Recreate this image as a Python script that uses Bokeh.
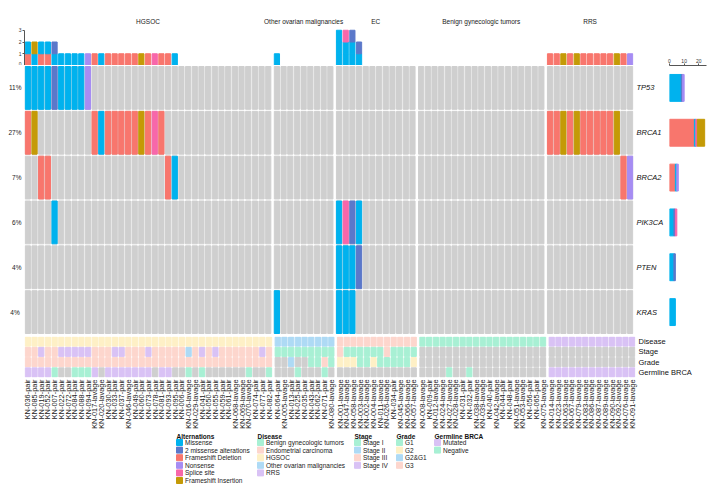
import math
from bokeh.plotting import figure
from bokeh.models import (ColumnDataSource, FactorRange, Range1d, LinearAxis,
                          CategoricalAxis, FixedTicker)
from bokeh.layouts import column, row
from bokeh.embed import file_html
from bokeh.resources import INLINE
from bokeh.core.properties import value

FONT = "Liberation Sans"

# ---------------- data ----------------
groups = ["HGSOC", "Other ovarian malignancies", "EC", "Benign gynecologic tumors", "RRS"]
disease_names = ["HGSOC", "Other ovarian malignancies", "Endometrial carcinoma",
                 "Benign gynecologic tumors", "RRS"]

samples_hgsoc = ["KN-036-pair", "KN-085-pair", "KN-019-pair", "KN-052-pair", "KN-007-pair",
                 "KN-022-pair", "KN-072-pair", "KN-084-pair", "KN-088-pair", "KN-094-pair",
                 "KN-017-lavage", "KN-020-lavage", "KN-030-pair", "KN-033-pair", "KN-037-pair",
                 "KN-046-lavage", "KN-049-pair", "KN-060-pair", "KN-073-pair", "KN-078-pair",
                 "KN-081-pair", "KN-093-pair", "KN-095-pair", "KN-006-pair", "KN-016-lavage",
                 "KN-029-lavage", "KN-041-pair", "KN-050-pair", "KN-055-pair", "KN-059-pair",
                 "KN-061-pair", "KN-068-lavage", "KN-069-lavage", "KN-070-lavage", "KN-074-pair",
                 "KN-077-pair", "KN-082-pair"]
samples_other = ["KN-064-pair", "KN-005-lavage", "KN-013-pair", "KN-025-pair", "KN-035-pair",
                 "KN-043-pair", "KN-062-pair", "KN-071-pair", "KN-080-lavage"]
samples_ec = ["KN-001-lavage", "KN-047-lavage", "KN-058-lavage", "KN-003-lavage", "KN-002-lavage",
              "KN-004-lavage", "KN-011-lavage", "KN-026-lavage", "KN-034-pair", "KN-045-lavage",
              "KN-066-lavage", "KN-057-lavage"]
samples_benign = ["KN-008-lavage", "KN-009-pair", "KN-012-lavage", "KN-024-lavage", "KN-027-lavage",
                  "KN-028-lavage", "KN-031-pair", "KN-032-pair", "KN-038-lavage", "KN-039-lavage",
                  "KN-040-pair", "KN-042-lavage", "KN-044-pair", "KN-048-pair", "KN-051-lavage",
                  "KN-053-lavage", "KN-056-pair", "KN-065-pair", "KN-075-lavage"]
samples_rrs = ["KN-014-lavage", "KN-023-lavage", "KN-063-lavage", "KN-067-lavage", "KN-079-lavage",
               "KN-083-lavage", "KN-086-lavage", "KN-087-lavage", "KN-089-lavage", "KN-090-lavage",
               "KN-092-lavage", "KN-076-lavage", "KN-091-lavage"]
sample_lists = [samples_hgsoc, samples_other, samples_ec, samples_benign, samples_rrs]

genes = ["TP53", "BRCA1", "BRCA2", "PIK3CA", "PTEN", "KRAS"]

# alteration codes: "." none, M Missense, T 2 missense alterations, D Frameshift Deletion,
# N Nonsense, S Splice site, I Frameshift Insertion   (one string per group)
calls_TP53 = ["MMMMTMMMMN" + "." * 27, "." * 9, "." * 12, "." * 19, "." * 13]
calls_BRCA1 = ["DI........DMDDDDDIDSD" + "." * 16, "." * 9, "." * 12, "." * 19, "DDIDIDDDDDI.."]
calls_BRCA2 = ["..DD" + "." * 17 + "DM" + "." * 14, "." * 9, "." * 12, "." * 19, "." * 11 + "DN"]
calls_PIK3CA = ["....M" + "." * 32, "." * 9, "MSTM" + "." * 8, "." * 19, "." * 13]
calls_PTEN = ["." * 37, "." * 9, "MMMT" + "." * 8, "." * 19, "." * 13]
calls_KRAS = ["." * 37, "M" + "." * 8, "MMM" + "." * 9, "." * 19, "." * 13]

# annotation codes (one string per group)
stage_calls = ["3343344444" "3334433343" "3333234343" "3333343", "111111111", "311111131111",
               "-" * 19, "-" * 13]
grade_calls = ["3" * 37, "--B--1131", "222112111112", "-" * 19, "-" * 13]
germline_calls = ["PPPPN--NNNP-PPPPPPP-PP--N-N------N--N", "---N---N-", "-" * 12,
                  "----N--N-----------", "P" * 13]

count_ticks = [0, 1, 2, 3]
right_ticks = [0, 10, 20]

# ---------------- styles ----------------
alt_names = {"M": "Missense", "T": "2 missense alterations", "D": "Frameshift Deletion",
             "N": "Nonsense", "S": "Splice site", "I": "Frameshift Insertion"}
alt_legend_order = ["M", "T", "D", "N", "S", "I"]
alt_stack_order = ["D", "M", "T", "N", "S", "I"]
alt_colors = {"M": "#00B2EE", "T": "#5B78CA", "D": "#F8766D", "N": "#A68CF3",
              "S": "#F767AA", "I": "#C49A06"}
MINT, PINK, YELLOW, BLUE, LAV = "#A8F0D4", "#FDD6CD", "#FEF0C6", "#AEDAF5", "#D9C2F5"
NA = "#CFCFCF"
disease_colors = {"Benign gynecologic tumors": MINT, "Endometrial carcinoma": PINK,
                  "HGSOC": YELLOW, "Other ovarian malignancies": BLUE, "RRS": LAV}
stage_names = {"1": "Stage I", "2": "Stage II", "3": "Stage III", "4": "Stage IV"}
stage_colors = {"Stage I": MINT, "Stage II": BLUE, "Stage III": PINK, "Stage IV": LAV}
grade_names = {"1": "G1", "2": "G2", "B": "G2&G1", "3": "G3"}
grade_colors = {"G1": MINT, "G2": YELLOW, "G2&G1": BLUE, "G3": PINK}
germ_names = {"P": "Mutated", "N": "Negative"}
germ_colors = {"Mutated": LAV, "Negative": MINT}

# ---------------- derived ----------------
x_factors = [(g, s) for g, ss in zip(groups, sample_lists) for s in ss]
n_samples = len(x_factors)
calls = {g: "".join(c) for g, c in zip(genes, [calls_TP53, calls_BRCA1, calls_BRCA2,
                                                calls_PIK3CA, calls_PTEN, calls_KRAS])}
xr = FactorRange(factors=x_factors, group_padding=0.3, range_padding=0)

CELL_W = 0.78
TOTAL_W = 712
FW = 611
LB, RB = 24, 31          # left / right borders of the matrix column
MAIN_W = LB + FW + RB    # 666
TOP_H, MAIN_H = 65, 269
ANNO_H, LEG_H = 98, 56


def style(p):
    p.grid.visible = False
    p.outline_line_color = None
    p.background_fill_color = "white"
    p.border_fill_color = "white"


# ---------------- top bar chart ----------------
top = figure(x_range=xr, y_range=Range1d(0, TOP_H / 11.75), width=MAIN_W, height=TOP_H,
             min_border_left=LB, min_border_right=RB, min_border_top=0, min_border_bottom=0,
             x_axis_location=None, y_axis_location=None, toolbar_location=None,
             output_backend="svg")
style(top)
bx, bb, bt, bc = [], [], [], []
for i, f in enumerate(x_factors):
    codes = sorted([calls[g][i] for g in genes if calls[g][i] != "."], key=alt_stack_order.index)
    for k, c in enumerate(codes):
        bx.append(f); bb.append(k); bt.append(k + 1); bc.append(alt_colors[c])
top.vbar(x="x", bottom="b", top="t", width=CELL_W, color="c",
         source=ColumnDataSource(dict(x=bx, b=bb, t=bt, c=bc)))
cax = LinearAxis(ticker=FixedTicker(ticks=count_ticks), bounds=(0, 3),
                 major_label_text_font_size="5px", major_label_text_font=FONT,
                 major_label_text_color="#333333", major_tick_out=2, major_tick_in=0,
                 minor_tick_out=0, minor_tick_in=0, major_label_standoff=1,
                 axis_line_color="#555555", major_tick_line_color="#555555")
top.add_layout(cax, "left")
top.text(x=groups, y=[3.75] * len(groups), text=groups, text_align="center",
         text_baseline="middle", text_font=value(FONT), text_font_size="6.5px",
         text_color="#222222")

# ---------------- main matrix ----------------
main = figure(x_range=xr, y_range=FactorRange(*reversed(genes)), width=MAIN_W, height=MAIN_H,
              min_border_left=LB, min_border_right=RB, min_border_top=0, min_border_bottom=0,
              x_axis_location=None, y_axis_location=None, toolbar_location=None,
              output_backend="svg")
style(main)
gx, gy, ax_, ay, ac = [], [], [], [], []
for g in genes:
    for i, f in enumerate(x_factors):
        gx.append(f); gy.append(g)
        c = calls[g][i]
        if c != ".":
            ax_.append(f); ay.append(g); ac.append(alt_colors[c])
main.rect(x=gx, y=gy, width=CELL_W, height=0.955, color=NA)
main.rect(x="x", y="y", width=CELL_W, height=0.955, color="c",
          source=ColumnDataSource(dict(x=ax_, y=ay, c=ac)))

# percentage labels: a factor range of their own (duplicates made unique by a trailing space)
pct_factors = []
for g in genes:
    lab = f"{round(100 * sum(ch != '.' for ch in calls[g]) / n_samples)}%"
    while lab in pct_factors:
        lab += " "
    pct_factors.append(lab)
main.extra_y_ranges = {"pct": FactorRange(*reversed(pct_factors))}
lax = CategoricalAxis(y_range_name="pct", major_tick_out=0, major_tick_in=0,
                      axis_line_color=None, major_label_text_font_size="6.5px",
                      major_label_text_font=FONT, major_label_text_color="#222222",
                      major_label_standoff=3)
main.add_layout(lax, "left")
rax = CategoricalAxis(major_tick_out=0, major_tick_in=0, axis_line_color=None,
                      major_label_text_font_size="7.5px", major_label_text_font=FONT,
                      major_label_text_font_style="italic", major_label_text_color="#111111",
                      major_label_standoff=3)
main.add_layout(rax, "right")

# ---------------- right bar chart ----------------
RIGHT_W = TOTAL_W - MAIN_W
right = figure(x_range=Range1d(0, (RIGHT_W - 3) / 1.465), y_range=main.y_range,
               width=RIGHT_W, height=TOP_H + MAIN_H,
               min_border_left=3, min_border_right=0, min_border_top=TOP_H, min_border_bottom=0,
               x_axis_location=None, y_axis_location=None, toolbar_location=None,
               output_backend="svg")
style(right)
ry, rl, rr, rc = [], [], [], []
for g in genes:
    left = 0
    for c in alt_stack_order:
        n = calls[g].count(c)
        if n:
            ry.append(g); rl.append(left); rr.append(left + n); rc.append(alt_colors[c])
            left += n
right.hbar(y="y", left="l", right="r", height=0.6, color="c",
           source=ColumnDataSource(dict(y=ry, l=rl, r=rr, c=rc)))
tax = LinearAxis(ticker=FixedTicker(ticks=right_ticks), bounds=(0, 25),
                 major_label_text_font_size="5px",
                 major_label_text_font=FONT, major_label_text_color="#333333",
                 major_tick_out=2, major_tick_in=0, minor_tick_out=0, minor_tick_in=0,
                 major_label_standoff=1, axis_line_color="#555555",
                 major_tick_line_color="#555555")
right.add_layout(tax, "above")

# ---------------- annotation rows ----------------
anno_rows = ["Disease", "Stage", "Grade", "Germline BRCA"]
anno = figure(x_range=xr, y_range=FactorRange(*reversed(anno_rows)), width=TOTAL_W,
              height=ANNO_H, min_border_left=LB, min_border_right=TOTAL_W - LB - FW,
              min_border_top=2, min_border_bottom=ANNO_H - 2 - 41,
              x_axis_location=None, y_axis_location=None,
              toolbar_location=None, output_backend="svg")
style(anno)
stage_all = "".join(stage_calls)
grade_all = "".join(grade_calls)
germ_all = "".join(germline_calls)
dis_all = [d for d, ss in zip(disease_names, sample_lists) for _ in ss]
nx, ny, nc = [], [], []
for i, f in enumerate(x_factors):
    vals = [disease_colors[dis_all[i]],
            stage_colors.get(stage_names.get(stage_all[i], ""), NA),
            grade_colors.get(grade_names.get(grade_all[i], ""), NA),
            germ_colors.get(germ_names.get(germ_all[i], ""), NA)]
    for r, col in zip(anno_rows, vals):
        nx.append(f); ny.append(r); nc.append(col)
anno.rect(x="x", y="y", width=CELL_W, height=0.88, color="c",
          source=ColumnDataSource(dict(x=nx, y=ny, c=nc)))
arax = CategoricalAxis(major_tick_out=0, major_tick_in=0, axis_line_color=None,
                       major_label_text_font_size="7.5px", major_label_text_font=FONT,
                       major_label_text_color="#111111", major_label_standoff=3)
anno.add_layout(arax, "right")
bax = CategoricalAxis(major_label_orientation=math.pi / 2, major_tick_out=0, major_tick_in=0,
                      axis_line_color=None, major_label_text_font_size="7.4px",
                      major_label_text_font=FONT, major_label_text_color="#222222",
                      major_label_standoff=2, group_text_font_size="0px",
                      group_text_color=None, separator_line_color=None)
anno.add_layout(bax, "below")

# ---------------- legend ----------------
# same frame as the matrix (layout aligns frames); data units = page pixels
leg = figure(x_range=Range1d(LB, LB + FW), y_range=Range1d(LEG_H, 0), width=TOTAL_W,
             height=LEG_H, min_border_left=LB, min_border_right=TOTAL_W - LB - FW,
             min_border_top=0, min_border_bottom=0, x_axis_location=None,
             y_axis_location=None, toolbar_location=None, output_backend="svg")
style(leg)
legend_blocks = [
    ("Alternations", [alt_names[k] for k in alt_legend_order],
     [alt_colors[k] for k in alt_legend_order]),
    ("Disease", list(disease_colors.keys()), list(disease_colors.values())),
    ("Stage", list(stage_colors.keys()), list(stage_colors.values())),
    ("Grade", list(grade_colors.keys()), list(grade_colors.values())),
    ("Germline BRCA", list(germ_colors.keys()), list(germ_colors.values())),
]
legend_x = [176, 257, 354, 396, 434]
for (title, labels, cols), x0 in zip(legend_blocks, legend_x):
    ys = [10 + 7.6 * i for i in range(len(labels))]
    leg.rect(x=[x0 + 3] * len(labels), y=ys, width=6, height=6, color=cols)
    leg.text(x=[x0 + 8.5] * len(labels), y=ys, text=labels, text_baseline="middle",
             text_font=value(FONT), text_font_size="6.5px", text_color="#222222")
    leg.text(x=[x0], y=[3.6], text=[title], text_baseline="middle", text_font=value(FONT),
             text_font_size="6.5px", text_font_style="bold", text_color="#111111")

layout = column(row(column(top, main), right), anno, leg)
open("out.html", "w").write(file_html(layout, INLINE))
